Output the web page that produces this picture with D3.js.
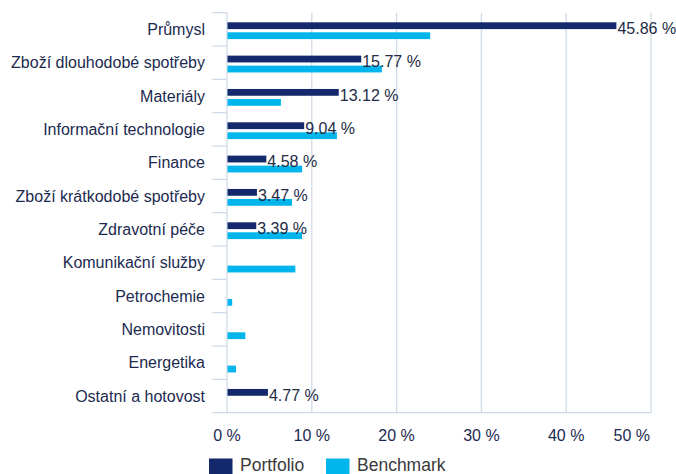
<!DOCTYPE html>
<html>
<head>
<meta charset="utf-8">
<script src="https://cdn.jsdelivr.net/npm/d3@7"></script>
<style>
  body { margin: 0; background: #fff; }
  svg { display: block; font-family: "Liberation Sans", Arial, sans-serif; }
</style>
</head>
<body>
<div id="chart"></div>
<script>
// data
const categories = ['Průmysl', 'Zboží dlouhodobé spotřeby', 'Materiály', 'Informační technologie',
  'Finance', 'Zboží krátkodobé spotřeby', 'Zdravotní péče', 'Komunikační služby',
  'Petrochemie', 'Nemovitosti', 'Energetika', 'Ostatní a hotovost'];
const portfolio = [45.86, 15.77, 13.12, 9.04, 4.58, 3.47, 3.39, null, null, null, null, 4.77];
const benchmark = [23.9, 18.2, 6.3, 12.9, 8.8, 7.6, 8.8, 8.0, 0.55, 2.1, 1.0, null];
const xTicks = [0, 10, 20, 30, 40, 50];
const seriesNames = ['Portfolio', 'Benchmark'];

const width = 676, height = 474;
const mLeft = 227, mRight = 651, mTop = 12.7, mBottom = 412.7;
const navy = '#13296b', cyan = '#00b5eb', grid = '#d0dbe8', textCol = '#1c2a50';

const svg = d3.select('#chart').append('svg')
  .attr('width', width).attr('height', height);

const x = d3.scaleLinear().domain([0, 50]).range([mLeft, mRight]);
const y = d3.scaleBand().domain(categories).range([mTop, mBottom]);

// grid lines
svg.append('g').selectAll('line')
  .data(xTicks)
  .enter().append('line')
  .attr('x1', d => x(d)).attr('x2', d => x(d))
  .attr('y1', mTop).attr('y2', mBottom)
  .attr('stroke', grid).attr('stroke-width', 1.3);

// separators between categories
const seps = categories.map(c => y(c)).concat([mBottom]);
svg.append('g').selectAll('line')
  .data(seps)
  .enter().append('line')
  .attr('x1', 212.5).attr('x2', (d, i) => i === seps.length - 1 ? mRight : x(0))
  .attr('y1', d => d).attr('y2', d => d)
  .attr('stroke', grid).attr('stroke-width', 1.3);

// category labels
svg.append('g').selectAll('text')
  .data(categories)
  .enter().append('text')
  .attr('x', 205)
  .attr('y', d => y(d) + y.bandwidth() / 2 + 1.5)
  .attr('text-anchor', 'end')
  .attr('dominant-baseline', 'middle')
  .attr('font-size', 16)
  .attr('fill', textCol)
  .text(d => d);

// x tick labels
svg.append('g').selectAll('text')
  .data(xTicks)
  .enter().append('text')
  .attr('x', (d, i) => i === xTicks.length - 1 ? x(d) - 1 : x(d))
  .attr('y', 441)
  .attr('text-anchor', (d, i) => i === xTicks.length - 1 ? 'end' : 'middle')
  .attr('font-size', 16)
  .attr('fill', textCol)
  .text(d => d + ' %');

// bars
const barH = 6.8;
const offP = 9.6, offB = 19.6;
svg.append('g').selectAll('rect')
  .data(categories.map((c, i) => ({c, v: portfolio[i]})).filter(d => d.v != null))
  .enter().append('rect')
  .attr('x', x(0) + 0.5)
  .attr('y', d => y(d.c) + offP)
  .attr('width', d => x(d.v) - x(0))
  .attr('height', barH)
  .attr('fill', navy);

svg.append('g').selectAll('rect')
  .data(categories.map((c, i) => ({c, v: benchmark[i]})).filter(d => d.v != null))
  .enter().append('rect')
  .attr('x', x(0) + 0.5)
  .attr('y', d => y(d.c) + offB)
  .attr('width', d => x(d.v) - x(0))
  .attr('height', barH)
  .attr('fill', cyan);

// value labels
svg.append('g').selectAll('text')
  .data(categories.map((c, i) => ({c, v: portfolio[i]})).filter(d => d.v != null))
  .enter().append('text')
  .attr('x', d => x(d.v) + 1.5)
  .attr('y', d => y(d.c) + offP + barH + 5)
  .attr('font-size', 16)
  .attr('fill', '#232b45')
  .text(d => d.v.toFixed(2) + ' %');

// legend
const legend = svg.append('g');
const legX = [209, 326];
seriesNames.forEach((s, i) => {
  legend.append('rect')
    .attr('x', legX[i]).attr('y', 458.5)
    .attr('width', 23.5).attr('height', 16)
    .attr('fill', i === 0 ? navy : cyan);
  legend.append('text')
    .attr('x', legX[i] + 31).attr('y', 471)
    .attr('font-size', 17.5)
    .attr('fill', '#3a3a3a')
    .text(s);
});
</script>
</body>
</html>
